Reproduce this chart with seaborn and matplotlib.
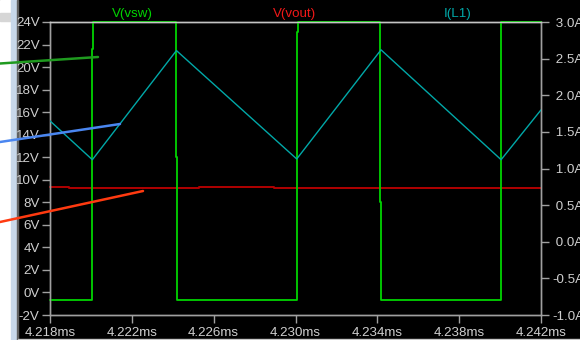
import numpy as np
import pandas as pd
import matplotlib
matplotlib.use("Agg")
import matplotlib.pyplot as plt
import seaborn as sns
from matplotlib.lines import Line2D
from matplotlib.patches import Rectangle

# ---- data ----
# V(vsw): switch node voltage (ms, V)
vsw_t = [4.2180, 4.22005, 4.22005, 4.22010, 4.22010, 4.22414, 4.22414, 4.22420, 4.22420,
         4.23007, 4.23007, 4.23012, 4.23012, 4.23415, 4.23415, 4.23420, 4.23420,
         4.24004, 4.24004, 4.2420]
vsw_v = [-0.7, -0.7, 21.6, 21.6, 24.0, 24.0, 12.0, 12.0, -0.7,
         -0.7, 23.1, 23.1, 24.0, 24.0, 8.0, 8.0, -0.7,
         -0.7, 24.0, 24.0]
# V(vout): output voltage
vout_t = [4.2180, 4.21893, 4.21893, 4.22528, 4.22528, 4.22895, 4.22895, 4.2420]
vout_v = [9.36, 9.36, 9.30, 9.30, 9.39, 9.39, 9.30, 9.30]
# I(L1): inductor current (A)
il_t = [4.2180, 4.22007, 4.22418, 4.23006, 4.23418, 4.24005, 4.2420]
il_a = [1.65, 1.12, 2.61, 1.13, 2.62, 1.12, 1.80]

v_ticks = [-2, 0, 2, 4, 6, 8, 10, 12, 14, 16, 18, 20, 22, 24]
v_labels = ["-2V", "0V", "2V", "4V", "6V", "8V", "10V", "12V", "14V", "16V", "18V", "20V", "22V", "24V"]
i_ticks = [-1.0, -0.5, 0.0, 0.5, 1.0, 1.5, 2.0, 2.5, 3.0]
i_labels = ["-1.0A", "-0.5A", " 0.0A", " 0.5A", " 1.0A", " 1.5A", " 2.0A", " 2.5A", " 3.0A"]
t_ticks = [4.218, 4.222, 4.226, 4.230, 4.234, 4.238, 4.242]
t_labels = ["4.218ms", "4.222ms", "4.226ms", "4.230ms", "4.234ms", "4.238ms", "4.242ms"]
trace_names = ["V(vsw)", "V(vout)", "I(L1)"]

# ---- style ----
sns.set_style("dark")
plt.rcParams["font.family"] = ["Liberation Sans", "DejaVu Sans"]
W, H = 580, 340
fig = plt.figure(figsize=(W / 100, H / 100), dpi=100, facecolor="black")

def px(x, y):
    return x / W, 1 - y / H

# window chrome at left
fig.add_artist(Rectangle((0, 0), 11 / W, 1, transform=fig.transFigure, color="white", zorder=0))
fig.add_artist(Rectangle((0, 1 - 21 / H), 11 / W, 8 / H, transform=fig.transFigure, color="#d6d6d6", zorder=0))
fig.add_artist(Rectangle((11 / W, 0), 6 / W, 1, transform=fig.transFigure, color="#c8d8ea", zorder=0))
fig.add_artist(Rectangle((17 / W, 0), 1.2 / W, 1, transform=fig.transFigure, color="#606060", zorder=0))
fig.add_artist(Rectangle((18 / W, 0), 1 - 18 / W, 1.3 / H, transform=fig.transFigure, color="#c8c8c8", zorder=0))

ax = fig.add_axes([50 / W, 25 / H, 491 / W, 293 / H])
ax.set_facecolor("black")
ax2 = ax.twinx()

GREEN = "#00d400"
RED_LINE = "#b00000"
RED_TXT = "#f01818"
CYAN = "#00a8a8"
AXC = "#a0a0a0"
TXT = "#cfcfcf"

df_vsw = pd.DataFrame({"t": vsw_t, "v": vsw_v})
df_vout = pd.DataFrame({"t": vout_t, "v": vout_v})
df_il = pd.DataFrame({"t": il_t, "i": il_a})

sns.lineplot(data=df_vsw, x="t", y="v", ax=ax, sort=False, estimator=None,
             color=GREEN, lw=1.3, zorder=3)
sns.lineplot(data=df_vout, x="t", y="v", ax=ax, sort=False, estimator=None,
             color=RED_LINE, lw=1.4, zorder=2)
sns.lineplot(data=df_il, x="t", y="i", ax=ax2, sort=False, estimator=None,
             color=CYAN, lw=1.0, zorder=4)
for l in ax.lines:
    l.set_clip_on(False)

ax.set_xlim(t_ticks[0], t_ticks[-1])
ax.set_ylim(-2, 24)
ax2.set_ylim(-1.0, 3.0)
ax.set_xlabel("")
ax.set_ylabel("")
ax2.set_ylabel("")

ax.set_xticks(t_ticks)
ax.set_xticklabels(t_labels)
ax.set_yticks(v_ticks)
ax.set_yticklabels(v_labels)
ax2.set_yticks(i_ticks)
ax2.set_yticklabels(i_labels, ha="left")

fs = 9.6
ax.tick_params(axis="x", colors=AXC, labelcolor=TXT, length=6, width=1, direction="out",
               pad=2.5, labelsize=fs, bottom=True)
ax.tick_params(axis="y", colors=AXC, labelcolor=TXT, length=6, width=1, direction="out",
               pad=1.5, labelsize=fs, left=True)
ax2.tick_params(axis="y", colors=AXC, labelcolor=TXT, length=6, width=1, direction="out",
                pad=2, labelsize=fs, right=True)
ax.grid(False)
ax2.grid(False)

for a in (ax, ax2):
    for s in a.spines.values():
        s.set_visible(True)
        s.set_color(AXC)
        s.set_linewidth(1.0)
    a.spines["top"].set_color("#c4c4c4")
ax2.set_zorder(ax.get_zorder() + 1)
ax2.patch.set_visible(False)

# trace names on top
for name, col, xc in zip(trace_names, [GREEN, RED_TXT, CYAN], [132, 294.5, 458]):
    fig.text(*px(xc, 13.5), name, color=col, fontsize=fs, ha="center", va="center")

# screenshot annotation strokes
for (x0, y0, x1, y1, c) in [(0, 63.5, 98, 57, "#1f9a1f"),
                            (0, 142, 120, 124, "#4a86f0"),
                            (0, 222, 143, 191, "#ff3a10")]:
    a0 = px(x0, y0)
    a1 = px(x1, y1)
    fig.add_artist(Line2D([a0[0], a1[0]], [a0[1], a1[1]], transform=fig.transFigure,
                          color=c, lw=1.8, zorder=10))

fig.savefig("out.png", dpi=100, facecolor="black")
